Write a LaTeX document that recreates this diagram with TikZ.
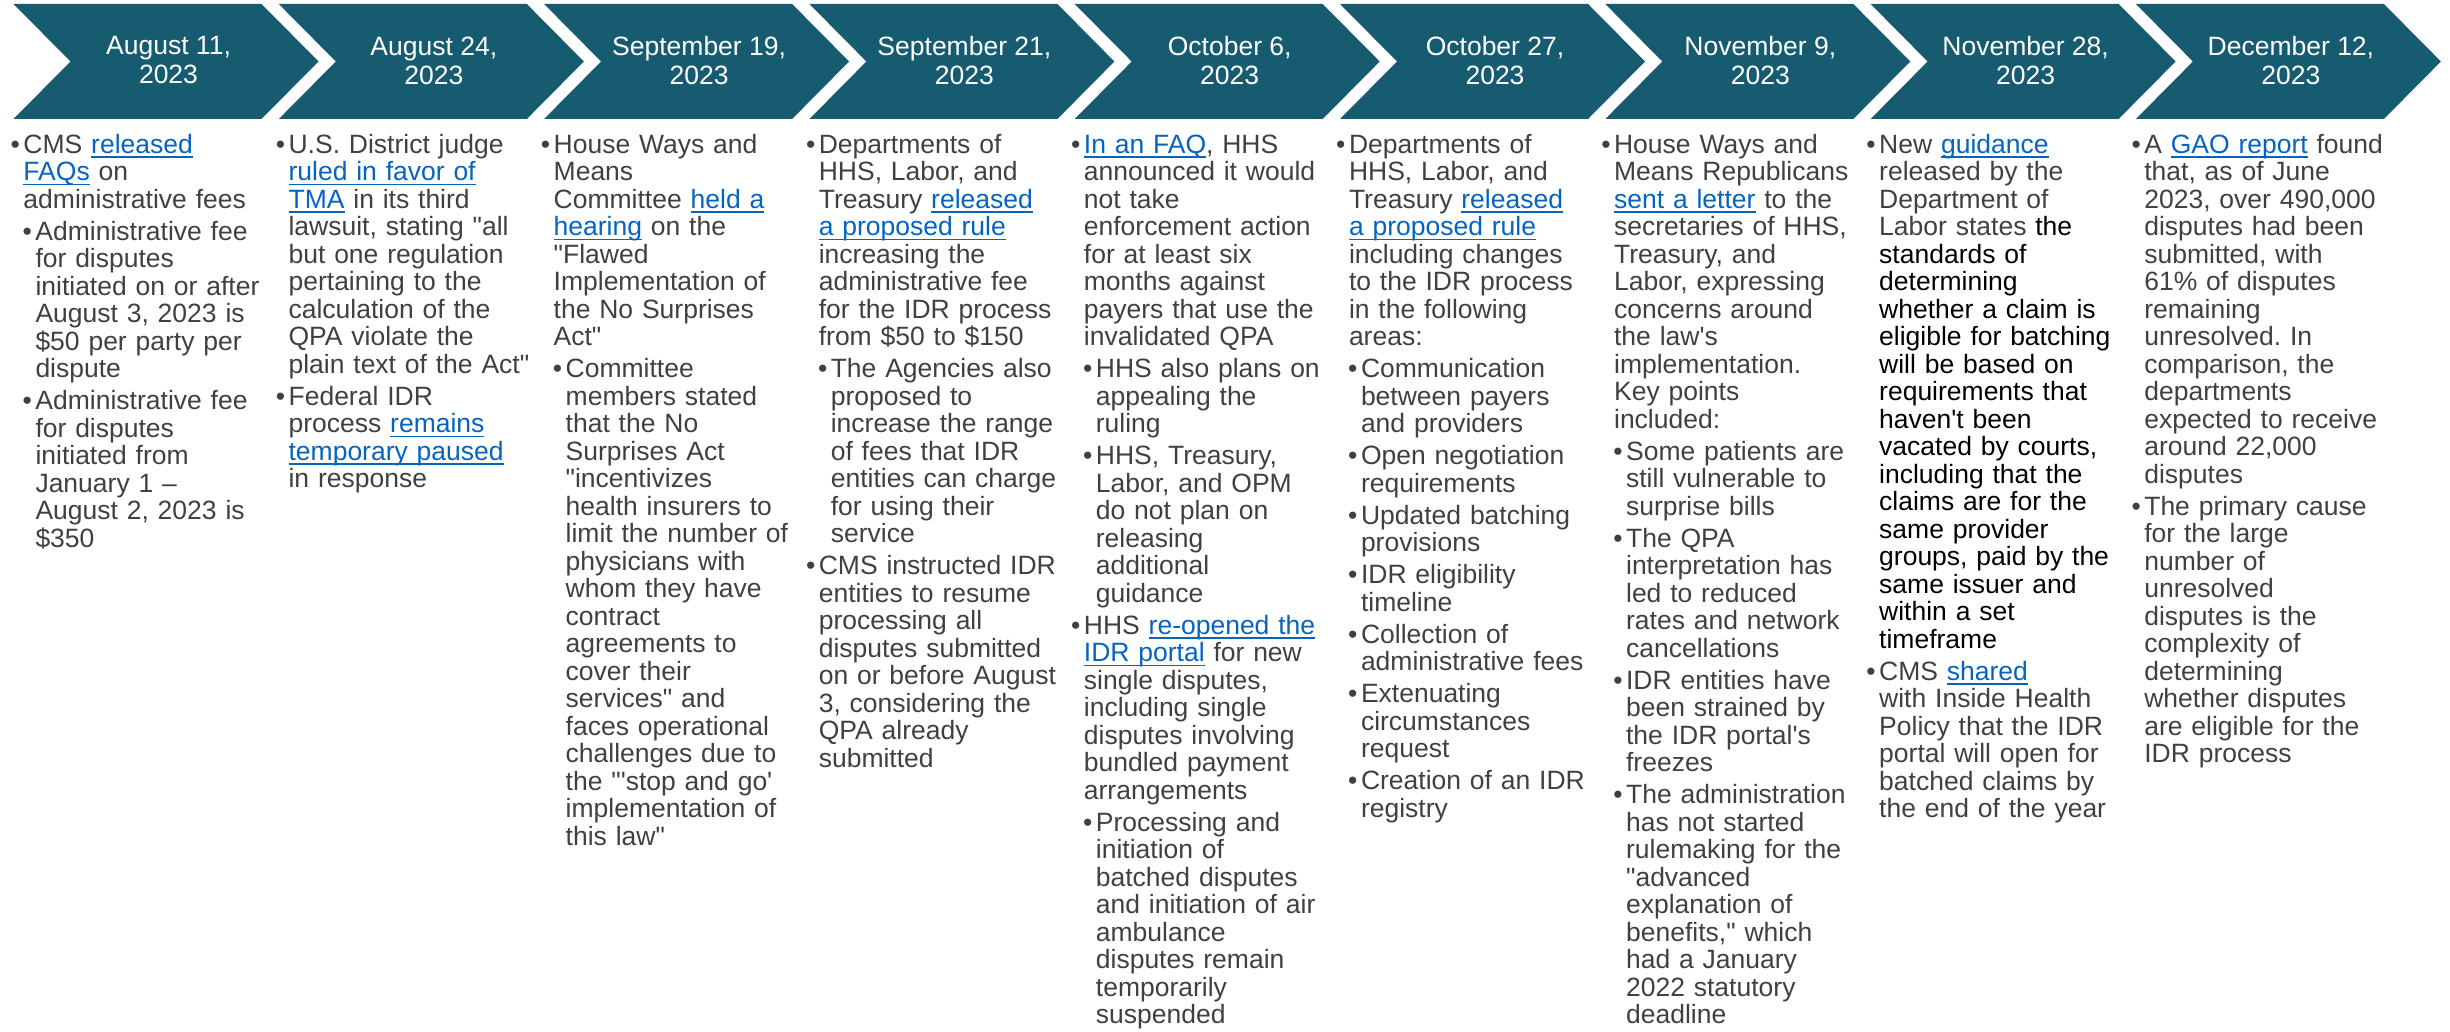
\documentclass[tikz,border=0pt]{standalone}
\usepackage{fontspec}
\setmainfont{Liberation Sans}[Ligatures=TeXOff]

\definecolor{chevblue}{HTML}{175B71}
\definecolor{bodygrey}{HTML}{404040}
\definecolor{linkblue}{HTML}{0563C1}

% linked text, underline just under the baseline
\newcommand{\lnk}[1]{\leavevmode{\color{linkblue}\setbox0\hbox{#1}%
    \rlap{\rule[-4.3pt]{\wd0}{1.5pt}}\box0}}
% first and second level bullets (\ptTop opens a column)
\newcommand{\ptTop}{\parskip=4.5pt\leftskip=9pt\noindent\llap{\textbullet\hspace{3.5pt}}}
\newcommand{\ptA}{\par\parskip=4.5pt\leftskip=9pt\noindent\llap{\textbullet\hspace{3.5pt}}}
\newcommand{\ptB}{\par\parskip=4.5pt\leftskip=21pt\noindent\llap{\textbullet\hspace{3.5pt}}}

\begin{document}
\begin{tikzpicture}[
    x=1pt, y=-1pt,
    chev/.style={fill=chevblue},
    date/.style={text=white, align=center, inner sep=0pt,
        font=\fontsize{26.5}{29}\selectfont},
    col/.style={anchor=base west, inner sep=0pt, text width=272pt,
        align=left, text=bodygrey,
        font=\fontsize{26.5}{27.5}\selectfont\frenchspacing}
]
\useasboundingbox (0,0) rectangle (2450,1032);

% =========================
% Chevron banner with dates
% =========================
\foreach \i/\dt in {0/{August 11,}, 1/{August 24,}, 2/{September 19,},
    3/{September 21,}, 4/{October 6,}, 5/{October 27,},
    6/{November 9,}, 7/{November 28,}, 8/{December 12,}}
{
    \pgfmathsetmacro{\x}{13.5+265.3*\i}
    % arrow body: flat top, point to the right, notch on the left
    \fill[chev] (\x,4) -- ++(248,0) -- ++(57,57.5) -- ++(-57,57.5)
        -- ++(-248,0) -- ++(57,-57.5) -- cycle;
    \node[date] (d\i) at (\x+155,60.5) {\dt\\2023};
}

% =========================
% Notes under each date
% =========================
\node[col] (c0) at (14.3,153.3) {%
\ptTop CMS \lnk{released}\\ \lnk{FAQs} on\\ administrative fees
\ptB Administrative fee\\ for disputes\\ initiated on or after\\ August 3, 2023 is\\ \$50 per party per\\ dispute
\ptB Administrative fee\\ for disputes\\ initiated from\\ January 1 –\\ August 2, 2023 is\\ \$350\par};

\node[col] (c1) at (279.4,153.3) {%
\ptTop U.S. District judge\\ \lnk{ruled in favor of}\\ \lnk{TMA} in its third\\ lawsuit, stating "all\\ but one regulation\\ pertaining to the\\ calculation of the\\ QPA violate the\\ plain text of the Act"
\ptA Federal IDR\\ process \lnk{remains}\\ \lnk{temporary paused}\\ in response\par};

\node[col] (c2) at (544.5,153.3) {%
\ptTop House Ways and\\ Means\\ Committee \lnk{held a}\\ \lnk{hearing} on the\\ "Flawed\\ Implementation of\\ the No Surprises\\ Act"
\ptB Committee\\ members stated\\ that the No\\ Surprises Act\\ "incentivizes\\ health insurers to\\ limit the number of\\ physicians with\\ whom they have\\ contract\\ agreements to\\ cover their\\ services" and\\ faces operational\\ challenges due to\\ the "'stop and go'\\ implementation of\\ this law"\par};

\node[col] (c3) at (809.6,153.3) {%
\ptTop Departments of\\ HHS, Labor, and\\ Treasury \lnk{released}\\ \lnk{a proposed rule}\\ increasing the\\ administrative fee\\ for the IDR process\\ from \$50 to \$150
\ptB The Agencies also\\ proposed to\\ increase the range\\ of fees that IDR\\ entities can charge\\ for using their\\ service
\ptA CMS instructed IDR\\ entities to resume\\ processing all\\ disputes submitted\\ on or before August\\ 3, considering the\\ QPA already\\ submitted\par};

\node[col] (c4) at (1074.7,153.3) {%
\ptTop \lnk{In an FAQ}, HHS\\ announced it would\\ not take\\ enforcement action\\ for at least six\\ months against\\ payers that use the\\ invalidated QPA
\ptB HHS also plans on\\ appealing the\\ ruling
\ptB HHS, Treasury,\\ Labor, and OPM\\ do not plan on\\ releasing\\ additional\\ guidance
\ptA HHS \lnk{re-opened the}\\ \lnk{IDR portal} for new\\ single disputes,\\ including single\\ disputes involving\\ bundled payment\\ arrangements
\ptB Processing and\\ initiation of\\ batched disputes\\ and initiation of air\\ ambulance\\ disputes remain\\ temporarily\\ suspended\par};

\node[col] (c5) at (1339.8,153.3) {%
\ptTop Departments of\\ HHS, Labor, and\\ Treasury \lnk{released}\\ \lnk{a proposed rule}\\ including changes\\ to the IDR process\\ in the following\\ areas:
\ptB Communication\\ between payers\\ and providers
\ptB Open negotiation\\ requirements
\ptB Updated batching\\ provisions
\ptB IDR eligibility\\ timeline
\ptB Collection of\\ administrative fees
\ptB Extenuating\\ circumstances\\ request
\ptB Creation of an IDR\\ registry\par};

\node[col] (c6) at (1604.9,153.3) {%
\ptTop House Ways and\\ Means Republicans\\ \lnk{sent a letter} to the\\ secretaries of HHS,\\ Treasury, and\\ Labor, expressing\\ concerns around\\ the law's\\ implementation.\\ Key points\\ included:
\ptB Some patients are\\ still vulnerable to\\ surprise bills
\ptB The QPA\\ interpretation has\\ led to reduced\\ rates and network\\ cancellations
\ptB IDR entities have\\ been strained by\\ the IDR portal's\\ freezes
\ptB The administration\\ has not started\\ rulemaking for the\\ "advanced\\ explanation of\\ benefits," which\\ had a January\\ 2022 statutory\\ deadline\par};

\node[col] (c7) at (1870.0,153.3) {%
\ptTop New \lnk{guidance}\\ released by the\\ Department of\\ Labor states {\color{black}the\\ standards of\\ determining\\ whether a claim is\\ eligible for batching\\ will be based on\\ requirements that\\ haven't been\\ vacated by courts,\\ including that the\\ claims are for the\\ same provider\\ groups, paid by the\\ same issuer and\\ within a set\\ timeframe}
\ptA CMS \lnk{shared}\\ with Inside Health\\ Policy that the IDR\\ portal will open for\\ batched claims by\\ the end of the year\par};

\node[col] (c8) at (2135.1,153.3) {%
\ptTop A \lnk{GAO report} found\\ that, as of June\\ 2023, over 490,000\\ disputes had been\\ submitted, with\\ 61\% of disputes\\ remaining\\ unresolved. In\\ comparison, the\\ departments\\ expected to receive\\ around 22,000\\ disputes
\ptA The primary cause\\ for the large\\ number of\\ unresolved\\ disputes is the\\ complexity of\\ determining\\ whether disputes\\ are eligible for the\\ IDR process\par};

\end{tikzpicture}
\end{document}
